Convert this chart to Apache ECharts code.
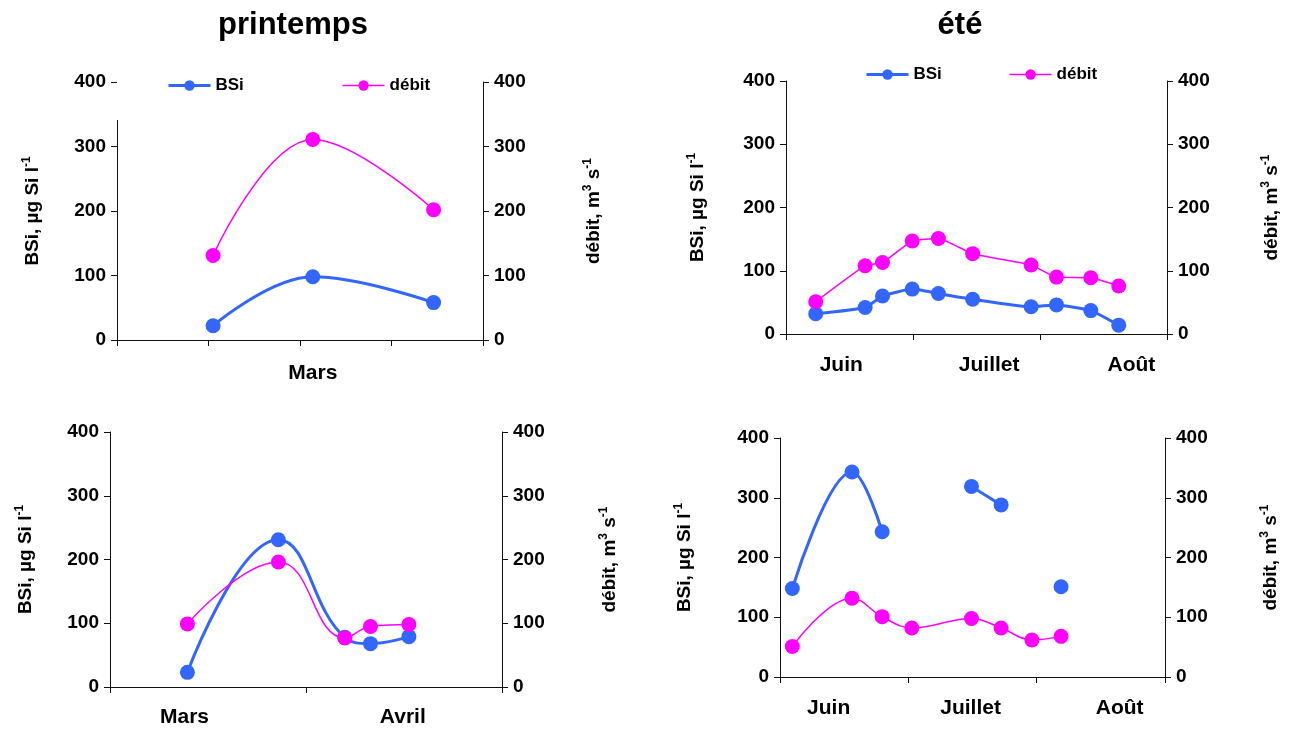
<!DOCTYPE html>
<html>
<head>
<meta charset="utf-8">
<script src="https://cdn.jsdelivr.net/npm/echarts@6/dist/echarts.min.js"></script>
<style>html,body{margin:0;padding:0;background:#fff;}#c{width:1296px;height:731px;}</style>
</head>
<body>
<div id="c"></div>
<script>
// ---- data (x in month-axis units, y in µg Si/l or m3/s) ----
const titles = ['printemps', 'été'];
const seriesNames = ['BSi', 'débit'];

const tlBSi   = [[1.05, 22], [2.14, 98], [3.46, 58]];
const tlDebit = [[1.05, 131], [2.14, 311], [3.46, 202]];
const tlMonths = ['Mars'];
const tlMonthAt = [2.14];

const trBSi   = [[0.234, 32], [0.623, 42], [0.76, 60], [0.994, 71], [1.2, 64], [1.47, 55], [1.93, 43], [2.13, 46], [2.40, 37], [2.62, 14]];
const trDebit = [[0.234, 51], [0.623, 108], [0.76, 113], [0.994, 147], [1.2, 151], [1.47, 127], [1.93, 109], [2.13, 90], [2.40, 89], [2.62, 76]];
const trMonths = ['Juin', 'Juillet', 'Août'];
const trMonthAt = [0.435, 1.6, 2.72];

const blBSi   = [[0.395, 23], [0.859, 231], [1.198, 78], [1.329, 68], [1.525, 79]];
const blDebit = [[0.395, 99], [0.859, 196], [1.198, 77], [1.329, 95], [1.525, 98]];
const blMonths = ['Mars', 'Avril'];
const blMonthAt = [0.38, 1.494];

const brBSi   = [[0.096, 148], [0.561, 343], [0.796, 243], [1.1, null], [1.492, 319], [1.723, 288], [2.0, null], [2.19, 151]];
const brDebit = [[0.096, 51], [0.561, 132], [0.796, 101], [1.027, 82], [1.492, 98], [1.723, 82], [1.963, 62], [2.19, 68]];
const brMonths = ['Juin', 'Juillet', 'Août'];
const brMonthAt = [0.379, 1.485, 2.647];

const yMin = 0, yMax = 400, yStep = 100;

// ---- styling ----
const FONT = '"Liberation Sans", Arial, Helvetica, sans-serif';
const BLUE = '#3366FF';
const PINK = '#FF00FF';
const AXIS = '#111';

const panels = [
  { grid: { left: 117, top: 82, width: 366, height: 258 }, n: 4, months: tlMonths, at: tlMonthAt, bsi: tlBSi, deb: tlDebit, smooth: 0.4, labMargin: 23, lName: 72, rName: 99 },
  { grid: { left: 786, top: 81, width: 381, height: 253 }, n: 3, months: trMonths, at: trMonthAt, bsi: trBSi, deb: trDebit, smooth: 0.15, labMargin: 21, lName: 76, rName: 93 },
  { grid: { left: 110, top: 432, width: 392, height: 255 }, n: 2, months: blMonths, at: blMonthAt, bsi: blBSi, deb: blDebit, smooth: 0.45, labMargin: 20, lName: 72, rName: 96 },
  { grid: { left: 780, top: 438, width: 385, height: 239 }, n: 3, months: brMonths, at: brMonthAt, bsi: brBSi, deb: brDebit, smooth: 0.4, labMargin: 21, lName: 83, rName: 94 }
];

const rich = {
  a: { fontFamily: FONT, fontWeight: 'bold', fontSize: 19, color: '#000', lineHeight: 24 },
  s: { fontFamily: FONT, fontWeight: 'bold', fontSize: 12, color: '#000', lineHeight: 12, verticalAlign: 'top' }
};

const grids = [], xAxes = [], yAxes = [], series = [];
panels.forEach((p, i) => {
  grids.push(p.grid);
  const ticks = [];
  for (let k = 0; k <= p.n; k++) ticks.push(k);
  xAxes.push({
    type: 'value', gridIndex: i, min: 0, max: p.n, interval: 1,
    splitLine: { show: false },
    axisLine: { show: true, onZero: false, lineStyle: { color: AXIS, width: 1 } },
    axisTick: { show: true, inside: false, length: 6, lineStyle: { color: AXIS }, customValues: ticks },
    axisLabel: {
      show: true, customValues: p.at, margin: p.labMargin,
      fontFamily: FONT, fontWeight: 'bold', fontSize: 21, color: '#000',
      formatter: v => { const j = p.at.findIndex(a => Math.abs(a - v) < 1e-6); return j >= 0 ? p.months[j] : ''; }
    }
  });
  const yBase = {
    type: 'value', gridIndex: i, min: yMin, max: yMax, interval: yStep,
    splitLine: { show: false },
    axisLine: { show: true, lineStyle: { color: AXIS, width: 1 } },
    axisTick: { show: true, inside: false, length: 6, lineStyle: { color: AXIS } },
    axisLabel: { fontFamily: FONT, fontWeight: 'bold', fontSize: 19, color: '#000', margin: 11 },
    nameLocation: 'middle', nameRotate: 90,
    nameTextStyle: { rich: rich }
  };
  yAxes.push(Object.assign({}, yBase, { position: 'left', name: '{a|BSi, µg Si l}{s|-1}', nameGap: p.lName }));
  yAxes.push(Object.assign({}, yBase, { position: 'right', name: '{a|débit, m}{s|3}{a| s}{s|-1}', nameGap: p.rName }));
  series.push({
    name: seriesNames[0], type: 'line', xAxisIndex: i, yAxisIndex: 2 * i,
    data: p.bsi.map(d => [d[0], d[1] === null ? '-' : d[1]]),
    smooth: p.smooth, connectNulls: false, showAllSymbol: true,
    symbol: 'circle', symbolSize: 15,
    lineStyle: { color: BLUE, width: 3 }, itemStyle: { color: BLUE },
    z: 2
  });
  series.push({
    name: seriesNames[1], type: 'line', xAxisIndex: i, yAxisIndex: 2 * i + 1,
    data: p.deb,
    smooth: p.smooth, showAllSymbol: true,
    symbol: 'circle', symbolSize: 15,
    lineStyle: { color: PINK, width: 1.5 }, itemStyle: { color: PINK },
    z: 3
  });
});

const legendText = { fontFamily: FONT, fontWeight: 'bold', fontSize: 17, color: '#000' };
const legendData = [
  { name: seriesNames[0], lineStyle: { width: 3, color: BLUE } },
  { name: seriesNames[1], lineStyle: { width: 1.5, color: PINK } }
];
const option = {
  animation: false,
  backgroundColor: '#fff',
  title: [
    { text: titles[0], left: 288, top: 5, textAlign: 'center', textStyle: { fontFamily: FONT, fontWeight: 'bold', fontSize: 31, color: '#000' } },
    { text: titles[1], left: 955, top: 5, textAlign: 'center', textStyle: { fontFamily: FONT, fontWeight: 'bold', fontSize: 31, color: '#000' } }
  ],
  legend: [
    { data: legendData, left: 117, top: 68, padding: [9, 30, 26, 50], backgroundColor: '#fff', itemWidth: 42, itemHeight: 13, itemGap: 98, textStyle: legendText, z: 5, selectedMode: false },
    { data: legendData, left: 865, top: 66, padding: 0, itemWidth: 42, itemHeight: 13, itemGap: 67, textStyle: legendText, z: 5, selectedMode: false }
  ],
  grid: grids, xAxis: xAxes, yAxis: yAxes, series: series
};
const chart = echarts.init(document.getElementById('c'), null, { renderer: 'canvas' });
chart.setOption(option);
</script>
</body>
</html>
